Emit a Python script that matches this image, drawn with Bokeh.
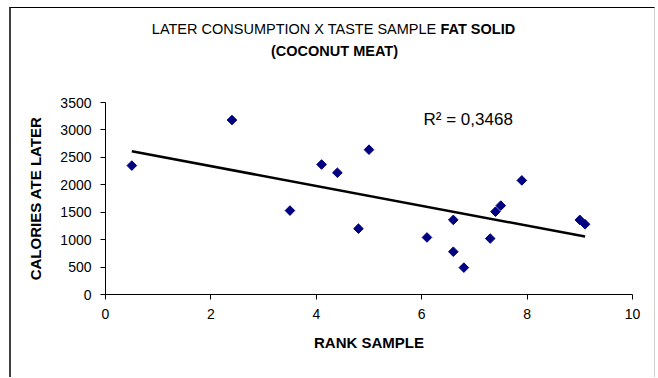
import numpy as np
from bokeh.plotting import figure
from bokeh.models import Range1d, Label, FixedTicker
from bokeh.embed import file_html
from bokeh.resources import INLINE

# ---- data ----
rank_sample = [0.5, 2.4, 3.5, 4.1, 4.4, 4.8, 5.0, 6.1, 6.6, 6.6, 6.8, 7.3, 7.4, 7.5, 7.9, 9.0, 9.1]
calories_later = [2350, 3180, 1530, 2370, 2220, 1200, 2640, 1040, 1360, 780, 490, 1020, 1510, 1620, 2080, 1360, 1280]
x_ticks = [0, 2, 4, 6, 8, 10]
y_ticks = [0, 500, 1000, 1500, 2000, 2500, 3000, 3500]
title_normal = "LATER CONSUMPTION X TASTE SAMPLE"
title_bold = "FAT SOLID"
title_line2 = "(COCONUT MEAT)"
r2_text = "R² = 0,3468"
x_label = "RANK SAMPLE"
y_label = "CALORIES ATE LATER"

FONT = "Liberation Sans"

# ---- geometry (pixels inside the canvas) ----
W, H = 646, 370
AX_LEFT, AX_RIGHT = 94, 621      # pixel of x=0 and x=10
AX_TOP, AX_BOTTOM = 94, 286      # pixel of y=3500 and y=0
X0, X1 = x_ticks[0], x_ticks[-1]
Y0, Y1 = y_ticks[0], y_ticks[-1]
kx = (AX_RIGHT - AX_LEFT) / (X1 - X0)
ky = (AX_BOTTOM - AX_TOP) / (Y1 - Y0)
x_range = Range1d(X0 - AX_LEFT / kx, X1 + (W - AX_RIGHT) / kx)
y_range = Range1d(Y0 - (H - AX_BOTTOM) / ky, Y1 + AX_TOP / ky)

p = figure(width=W, height=H, margin=(7, 0, 0, 9),
           x_range=x_range, y_range=y_range,
           output_backend="svg", toolbar_location=None, min_border=0)
p.styles = {"border-left": "2px solid #404040",
            "border-top": "1px solid #000000",
            "border-right": "1px solid #d0d0d0"}

p.outline_line_color = None
p.background_fill_color = "white"
p.border_fill_color = "white"
p.xgrid.visible = False
p.ygrid.visible = False

for ax in (p.xaxis[0], p.yaxis[0]):
    ax.axis_line_color = "black"
    ax.axis_line_width = 1
    ax.major_tick_line_color = "black"
    ax.major_tick_out = 5
    ax.major_tick_in = 0
    ax.minor_tick_line_color = None
    ax.major_label_text_font = FONT
    ax.major_label_text_font_size = "14px"
    ax.major_label_text_color = "black"
    ax.axis_label_text_font = FONT
    ax.axis_label_text_font_size = "15px"
    ax.axis_label_text_font_style = "bold"
    ax.axis_label_text_color = "black"

p.xaxis.ticker = FixedTicker(ticks=x_ticks)
p.yaxis.ticker = FixedTicker(ticks=y_ticks)
p.xaxis.bounds = (X0, X1)
p.yaxis.bounds = (Y0, Y1)
p.xaxis.fixed_location = Y0
p.yaxis.fixed_location = X0
p.xaxis.axis_label = x_label
p.yaxis.axis_label = y_label
p.xaxis.major_label_standoff = 9
p.yaxis.major_label_standoff = 9
p.xaxis.axis_label_standoff = 12
p.yaxis.axis_label_standoff = 13

# trend line from least squares fit of the data
xs = np.array(rank_sample, dtype=float)
ys = np.array(calories_later, dtype=float)
slope, intercept = np.polyfit(xs, ys, 1)
lx = np.array([xs.min(), xs.max()])
p.line(lx, slope * lx + intercept, line_color="black", line_width=2.5)

p.scatter(rank_sample, calories_later, marker="square", angle=np.pi / 4,
          size=6.8, fill_color="#000080", line_color="#000080")

# titles (screen units: from bottom-left of the canvas)
p.add_layout(Label(x=425, y=350, x_units="screen", y_units="screen", text=title_normal,
                   text_font=FONT, text_font_size="14.5px", text_align="right",
                   text_baseline="middle", text_color="black"))
p.add_layout(Label(x=429, y=350, x_units="screen", y_units="screen", text=title_bold,
                   text_font=FONT, text_font_size="14.5px", text_font_style="bold",
                   text_align="left", text_baseline="middle", text_color="black"))
p.add_layout(Label(x=323, y=327.5, x_units="screen", y_units="screen", text=title_line2,
                   text_font=FONT, text_font_size="14.5px", text_font_style="bold",
                   text_align="center", text_baseline="middle", text_color="black"))
p.add_layout(Label(x=456.7, y=259.3, x_units="screen", y_units="screen", text=r2_text,
                   text_font=FONT, text_font_size="17px",
                   text_align="center", text_baseline="middle", text_color="black"))

open("out.html", "w").write(file_html(p, INLINE))
